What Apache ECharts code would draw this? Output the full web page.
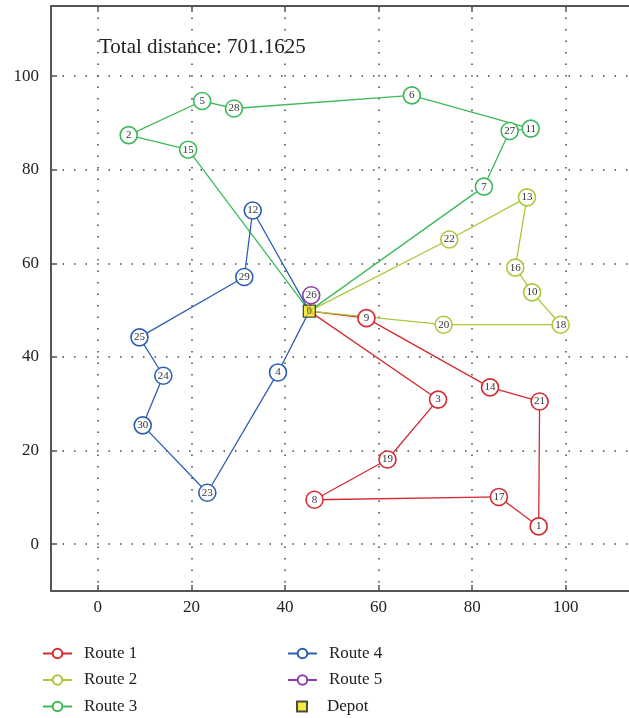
<!DOCTYPE html>
<html lang="en">
<head>
    <meta charset="UTF-8">
    <title>Vehicle routes</title>
    <script src="https://cdn.jsdelivr.net/npm/echarts@6/dist/echarts.min.js"></script>
    <style>
        html, body { margin: 0; padding: 0; background: #fff; }
        #chart { width: 629px; height: 718px; }
    </style>
</head>
<body>
    <div id="chart"></div>
    <script>
        // node coordinates, index = node id (0 is the depot)
        const nodeX = [45.2, 94.2, 6.6, 72.7, 38.5, 22.3, 67.1, 82.5, 46.3, 57.4,
                       92.8, 92.5, 33.1, 91.7, 83.8, 19.3, 89.2, 85.7, 98.9, 61.9,
                       73.9, 94.4, 75.1, 23.4, 14.0, 8.9, 45.6, 88.0, 29.1, 31.3, 9.6];
        const nodeY = [49.8, 3.8, 87.4, 30.9, 36.7, 94.7, 95.9, 76.4, 9.5, 48.3,
                       53.8, 88.8, 71.3, 74.1, 33.5, 84.3, 59.1, 10.1, 46.9, 18.1,
                       46.9, 30.5, 65.1, 11.0, 36.0, 44.2, 53.2, 88.3, 93.1, 57.1, 25.4];

        // visiting order of each route
        const route1 = [0, 9, 14, 21, 1, 17, 8, 19, 3, 0];
        const route2 = [0, 22, 13, 16, 10, 18, 20, 0];
        const route3 = [0, 7, 27, 11, 6, 28, 5, 2, 15, 0];
        const route4 = [0, 12, 29, 25, 24, 30, 23, 4, 0];
        const route5 = [0, 26, 0];

        const routeNames = ['Route 1', 'Route 2', 'Route 3', 'Route 4', 'Route 5'];
        const routeColors = ['#d42a30', '#a9c93a', '#3dba58', '#2c5fb3', '#8e3eab'];
        const xTicks = [0, 20, 40, 60, 80, 100];
        const yTicks = [0, 20, 40, 60, 80, 100];
        const totalDistance = '701.1625';

        const serif = '"Liberation Serif", "DejaVu Serif", serif';

        function routeSeries(name, ids, color) {
            return {
                name: name,
                type: 'line',
                data: ids.map(function (id) {
                    const item = { value: [nodeX[id], nodeY[id]], id_: id };
                    if (id === 0) item.symbol = 'none';
                    return item;
                }),
                symbol: 'circle',
                symbolSize: 17,
                showAllSymbol: true,
                lineStyle: { color: color, width: 1.3 },
                itemStyle: { color: '#fff', borderColor: color, borderWidth: 1.6 },
                label: {
                    show: true,
                    position: 'inside',
                    fontSize: 11,
                    fontFamily: serif,
                    color: '#333',
                    formatter: function (p) { return p.data.id_ === 0 ? '' : String(p.data.id_); }
                },
                emphasis: { disabled: true },
                animation: false
            };
        }

        const routes = [route1, route2, route3, route4, route5];
        const series = routes.map(function (r, i) {
            return routeSeries(routeNames[i], r, routeColors[i]);
        });
        series.push({
            name: 'Depot',
            type: 'scatter',
            data: [[nodeX[0], nodeY[0]]],
            symbol: 'rect',
            symbolSize: 12,
            itemStyle: { color: '#f3e51a', borderColor: '#222', borderWidth: 1.3 },
            label: { show: true, position: 'inside', formatter: '0', fontSize: 10, fontFamily: serif, color: '#333' },
            z: 5,
            animation: false
        });

        const axisLine = { show: true, onZero: false, lineStyle: { color: '#555', width: 2 } };
        const dotted = { show: true, lineStyle: { color: '#444', width: 1.5, type: [1.5, 10] } };
        const legendText = { fontFamily: serif, fontSize: 17, color: '#222', padding: [0, 0, 0, 7] };

        const option = {
            backgroundColor: '#fff',
            title: {
                text: 'Total distance: ' + totalDistance,
                left: 99,
                top: 37,
                padding: 0,
                textStyle: { fontFamily: serif, fontWeight: 'normal', fontSize: 21, color: '#222' }
            },
            legend: [
                {
                    data: ['Route 1', 'Route 2', 'Route 3'],
                    orient: 'vertical',
                    left: 42, top: 645, padding: 0,
                    itemWidth: 29, itemHeight: 12, itemGap: 9.5,
                    textStyle: legendText
                },
                {
                    data: ['Route 4', 'Route 5'],
                    orient: 'vertical',
                    left: 287, top: 645, padding: 0,
                    itemWidth: 29, itemHeight: 12, itemGap: 9.5,
                    textStyle: legendText
                },
                {
                    data: ['Depot'],
                    orient: 'vertical',
                    left: 296, top: 698, padding: 0,
                    itemWidth: 10, itemHeight: 10,
                    textStyle: { fontFamily: serif, fontSize: 17, color: '#222', padding: [0, 0, 0, 15] }
                }
            ],
            grid: { left: 51, right: 0, top: 6, bottom: 127 },
            xAxis: [
                {
                    type: 'value', min: -10, max: 113.5, position: 'bottom',
                    axisLine: axisLine,
                    axisTick: { show: true, inside: true, length: 6, customValues: xTicks, lineStyle: { color: '#555', width: 1.5 } },
                    axisLabel: { customValues: xTicks, fontFamily: serif, fontSize: 17, color: '#222', margin: 8 },
                    splitLine: dotted
                },
                {
                    type: 'value', min: -10, max: 113.5, position: 'top',
                    axisLine: axisLine,
                    axisTick: { show: true, inside: true, length: 6, customValues: xTicks, lineStyle: { color: '#555', width: 1.5 } },
                    axisLabel: { show: false },
                    splitLine: { show: false }
                }
            ],
            yAxis: [
                {
                    type: 'value', min: -10, max: 115, position: 'left',
                    axisLine: axisLine,
                    axisTick: { show: true, inside: true, length: 6, customValues: yTicks, lineStyle: { color: '#555', width: 1.5 } },
                    axisLabel: { customValues: yTicks, fontFamily: serif, fontSize: 17, color: '#222', margin: 12 },
                    splitLine: dotted
                }
            ],
            series: series
        };

        const myChart = echarts.init(document.getElementById('chart'));
        myChart.setOption(option);
    </script>
</body>
</html>
